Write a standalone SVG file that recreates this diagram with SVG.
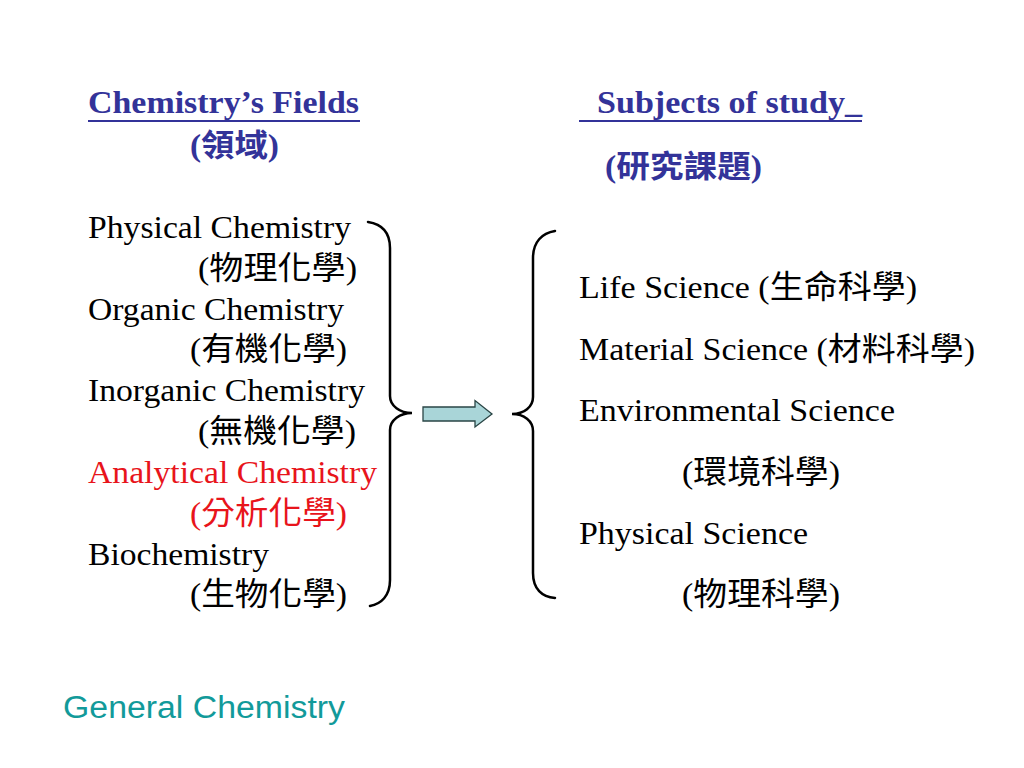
<svg xmlns="http://www.w3.org/2000/svg" width="1024" height="768" viewBox="0 0 1024 768">
  <style>
    .t { font-family: "Liberation Serif", "Noto Sans CJK TC", serif; font-size: 32px; fill: #000000; }
    .h { font-family: "Liberation Serif", "Noto Sans CJK TC", serif; font-size: 31px; font-weight: bold; fill: #333399; }
    .red { fill: #e8141b; }
    .brace { fill: none; stroke: #000000; stroke-width: 2.5; stroke-linecap: round; }
    .ul { stroke: #333399; stroke-width: 2; }
    .gc { font-family: "Liberation Sans", Arial, sans-serif; font-size: 31px; fill: #129a9a; }
  </style>
  <rect width="1024" height="768" fill="#ffffff"/>

  <g id="fields-header">
    <text class="h" x="88" y="113" textLength="271" lengthAdjust="spacingAndGlyphs">Chemistry’s Fields</text>
    <line class="ul" x1="88" y1="121" x2="360" y2="121"/>
    <text class="h" x="190" y="156" textLength="89" lengthAdjust="spacingAndGlyphs">(領域)</text>
  </g>

  <g id="subjects-header">
    <text class="h" x="597" y="113" textLength="265" lengthAdjust="spacingAndGlyphs">Subjects of study_</text>
    <line class="ul" x1="579" y1="121" x2="862" y2="121"/>
    <text class="h" x="605" y="177" textLength="157" lengthAdjust="spacingAndGlyphs">(研究課題)</text>
  </g>

  <g id="fields">
    <text class="t" x="88" y="238" textLength="263" lengthAdjust="spacingAndGlyphs">Physical Chemistry</text>
    <text class="t" x="198" y="279" textLength="159" lengthAdjust="spacingAndGlyphs">(物理化學)</text>
    <text class="t" x="88" y="320" textLength="256" lengthAdjust="spacingAndGlyphs">Organic Chemistry</text>
    <text class="t" x="190" y="360" textLength="157" lengthAdjust="spacingAndGlyphs">(有機化學)</text>
    <text class="t" x="88" y="401" textLength="277" lengthAdjust="spacingAndGlyphs">Inorganic Chemistry</text>
    <text class="t" x="198" y="442" textLength="158" lengthAdjust="spacingAndGlyphs">(無機化學)</text>
    <text class="t red" x="88" y="483" textLength="289" lengthAdjust="spacingAndGlyphs">Analytical Chemistry</text>
    <text class="t red" x="190" y="524" textLength="157" lengthAdjust="spacingAndGlyphs">(分析化學)</text>
    <text class="t" x="88" y="565" textLength="181" lengthAdjust="spacingAndGlyphs">Biochemistry</text>
    <text class="t" x="190" y="605" textLength="157" lengthAdjust="spacingAndGlyphs">(生物化學)</text>
  </g>

  <g id="subjects">
    <text class="t" x="579" y="298" textLength="338" lengthAdjust="spacingAndGlyphs">Life Science (生命科學)</text>
    <text class="t" x="579" y="360" textLength="396" lengthAdjust="spacingAndGlyphs">Material Science (材料科學)</text>
    <text class="t" x="579" y="421" textLength="316" lengthAdjust="spacingAndGlyphs">Environmental Science</text>
    <text class="t" x="682" y="483" textLength="158" lengthAdjust="spacingAndGlyphs">(環境科學)</text>
    <text class="t" x="579" y="544" textLength="229" lengthAdjust="spacingAndGlyphs">Physical Science</text>
    <text class="t" x="682" y="605" textLength="158" lengthAdjust="spacingAndGlyphs">(物理科學)</text>
  </g>

  <g id="connectors">
    <path class="brace" d="M368,222 C381,224 390,232 390,248 L390,396 C390,406 400,413 412,413 C400,413 390,420 390,430 L390,580 C390,596 381,604 370,606"/>
    <polygon points="423,407 475,407 475,400.5 492,414 475,427 475,421 423,421" fill="#a9d5d8" stroke="#2a4545" stroke-width="1.3" stroke-linejoin="miter"/>
    <path class="brace" d="M555,231 C542,233 533,242 533,258 L533,397 C533,407 524,414 512,414 C524,414 533,421 533,431 L533,573 C533,589 542,597 555,598"/>
  </g>

  <g id="footer">
    <text class="gc" x="63" y="718" textLength="282" lengthAdjust="spacingAndGlyphs">General Chemistry</text>
  </g>
</svg>
